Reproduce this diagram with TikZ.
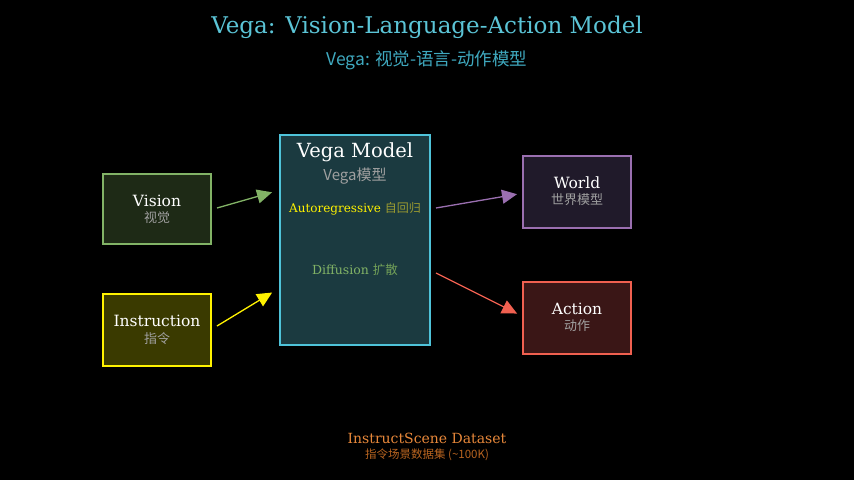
\documentclass[tikz,border=0pt]{standalone}
\usepackage{fontspec}
\setmainfont{DejaVu Serif}
\newfontfamily\cjk{Noto Sans CJK SC}
\usetikzlibrary{arrows.meta}
\definecolor{tcyan}{HTML}{5BC4D6}
\definecolor{scyan}{HTML}{3FA9BF}
\definecolor{cgray}{HTML}{A0A0A0}
\definecolor{cgreen}{HTML}{82B366}
\definecolor{cgreen2}{HTML}{72A058}
\definecolor{colive}{HTML}{9A9A30}
\definecolor{corange}{HTML}{E8883A}
\definecolor{corange2}{HTML}{B86420}
\definecolor{cpurple}{HTML}{9A6FB0}
\definecolor{cred}{HTML}{F06050}
\definecolor{cblue}{HTML}{4FC3D9}
\definecolor{fvision}{HTML}{1E2A16}
\definecolor{finstr}{HTML}{3A3A00}
\definecolor{fvega}{HTML}{1B3A40}
\definecolor{fworld}{HTML}{201A2A}
\definecolor{faction}{HTML}{3A1616}
\tikzset{
  box/.style={draw, line width=1.6pt, inner sep=0pt, minimum width=108pt, minimum height=72pt},
  arr/.style={line width=1.3pt, -{Triangle[length=15pt,width=14pt]}, shorten >=1pt},
  lbl/.style={text=white, font=\fontsize{15.5}{18}\selectfont},
  sub/.style={text=cgray, font=\cjk\fontsize{13}{15}\selectfont}
}
\begin{document}
\begin{tikzpicture}[x=1pt,y=-1pt]
\fill[black] (0,0) rectangle (854,480);
\useasboundingbox (0,0) rectangle (854,480);
\node[text=tcyan, font=\fontsize{23}{26}\selectfont] (title) at (427,27) {Vega: Vision-Language-Action Model};
\node[text=scyan, font=\cjk\fontsize{17.5}{20}\selectfont] (subtitle) at (427,60) {Vega: 视觉-语言-动作模型};
% boxes
\node[box, draw=cgreen, fill=fvision, minimum height=70pt] (vision) at (157,209) {};
\node[box, draw=yellow, fill=finstr] (instr) at (157,330) {};
\node[box, draw=cblue, fill=fvega, minimum width=150pt, minimum height=210pt] (vega) at (355,240) {};
\node[box, draw=cpurple, fill=fworld] (world) at (577,192) {};
\node[box, draw=cred, fill=faction] (action) at (577,318) {};
% labels
\node[lbl] (vt) at (157,201) {Vision};
\node[sub] (vs) at (157,218) {视觉};
\node[lbl] (it) at (157,321) {Instruction};
\node[sub] (is) at (157,339) {指令};
\node[text=white, font=\fontsize{19.5}{22}\selectfont] (gt) at (355,152) {Vega Model};
\node[text=cgray, font=\cjk\fontsize{15}{17}\selectfont] (gs) at (355,176) {Vega模型};
\node[font=\fontsize{12}{14}\selectfont] (ar) at (355,209) {\textcolor{yellow}{Autoregressive} \textcolor{colive}{\cjk 自回归}};
\node[font=\fontsize{12.5}{14}\selectfont] (df) at (355,270) {\textcolor{cgreen}{Diffusion} \textcolor{cgreen2}{\cjk 扩散}};
\node[lbl] (wt) at (577,183) {World};
\node[sub] (ws) at (577,200) {世界模型};
\node[lbl] (at) at (577,309) {Action};
\node[sub] (as) at (577,326) {动作};
\node[text=corange, font=\fontsize{14}{16}\selectfont] (ds) at (427,438) {InstructScene Dataset};
\node[text=corange2, font=\cjk\fontsize{11.5}{13}\selectfont] (dss) at (427,455) {指令场景数据集 (\textasciitilde 100K)};
% connectors
\coordinate (a1s) at (217,208); \coordinate (a1e) at (273,192);
\coordinate (a2s) at (217,326); \coordinate (a2e) at (273,292);
\coordinate (a3s) at (436,208); \coordinate (a3e) at (518,194);
\coordinate (a4s) at (436,273); \coordinate (a4e) at (518,314);
\draw[arr, draw=cgreen, fill=cgreen] (a1s) -- (a1e);
\draw[arr, draw=yellow, fill=yellow] (a2s) -- (a2e);
\draw[arr, draw=cpurple, fill=cpurple] (a3s) -- (a3e);
\draw[arr, draw=cred, fill=cred] (a4s) -- (a4e);
\end{tikzpicture}
\end{document}
